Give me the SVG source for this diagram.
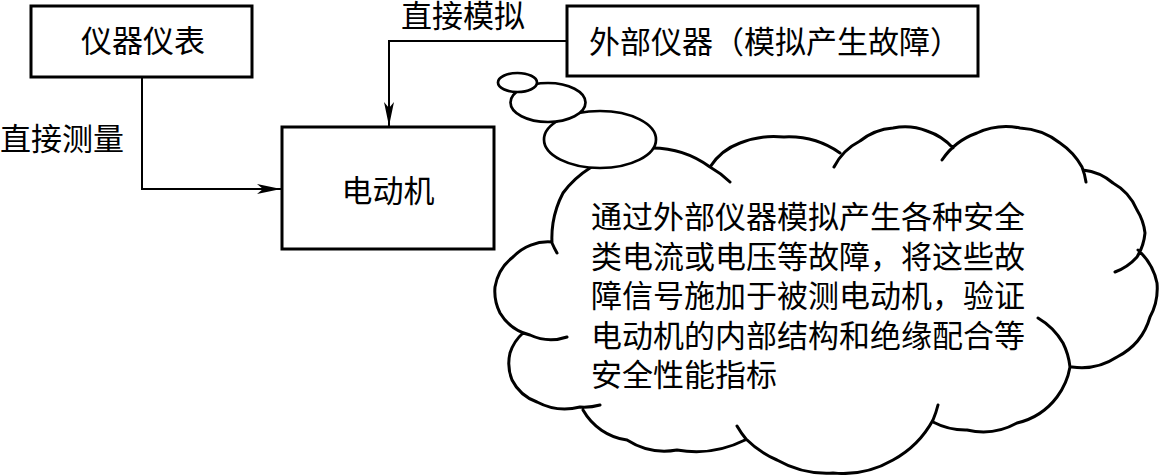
<svg xmlns="http://www.w3.org/2000/svg" width="1161" height="475" viewBox="0 0 1161 475">
<style>
.box{fill:#fff;stroke:#000;stroke-width:3}
.t{font-family:"Noto Sans CJK SC","Noto Sans CJK JP",sans-serif;font-size:31px;fill:#000}
.ln{fill:none;stroke:#000;stroke-width:2}
.cl{fill:none;stroke:#000;stroke-width:3;stroke-linecap:round}
.bub{fill:#fff;stroke:#000;stroke-width:2.7}
</style>
<defs>
<marker id="arrow" markerUnits="userSpaceOnUse" markerWidth="26" markerHeight="12" refX="24" refY="6" orient="auto">
<path d="M0,1 L24,6 L0,11 L6,6 Z" fill="#000"/>
</marker>
</defs>
<g id="connectors">
<path class="ln" d="M142,77 V189 H281" marker-end="url(#arrow)"/>
<path class="ln" d="M567,41 H389 V126" marker-end="url(#arrow)"/>
<text class="t" x="0" y="150">直接测量</text>
<text class="t" x="401" y="27">直接模拟</text>
</g>
<g id="node-instruments">
<rect class="box" x="31" y="6" width="221" height="71"/>
<text class="t" x="143" y="52" text-anchor="middle">仪器仪表</text>
</g>
<g id="node-motor">
<rect class="box" x="282" y="127" width="212" height="122"/>
<text class="t" x="388" y="202" text-anchor="middle">电动机</text>
</g>
<g id="node-external">
<rect class="box" x="567" y="6" width="411" height="70"/>
<text class="t" x="589" y="53">外部仪器（模拟产生故障）</text>
</g>
<g id="node-cloud">
<path class="cl" d="M745,440 A110,110 0 0 1 677,450 A70,70 0 0 1 627,440 A60,60 0 0 1 583,410
M600,405 A60,60 0 0 1 580,407 A60,60 0 0 1 537,402 A45,45 0 0 1 512,380 A45,45 0 0 1 510,353 A45,45 0 0 1 523,333
M567,337 A50,50 0 0 1 530,335 A48,48 0 0 1 500,313 A48,48 0 0 1 495,287 A48,48 0 0 1 513,257 A48,48 0 0 1 552,242
M557,253 A98,98 0 0 1 552,243 A98,98 0 0 1 553,223 A98,98 0 0 1 563,193 A98,98 0 0 1 590,168 A98,98 0 0 1 650,148 A98,98 0 0 1 710,167 A98,98 0 0 1 730,182
M710,167 A60,60 0 0 1 740,143 A90,90 0 0 1 784,137 A90,90 0 0 1 840,153
M834,167 A60,60 0 0 1 860,141 A60,60 0 0 1 893,128 A60,60 0 0 1 927,131 A60,60 0 0 1 953,148
M942,160 A70,70 0 0 1 977,133 A70,70 0 0 1 1020,128 A70,70 0 0 1 1060,143 A70,70 0 0 1 1082,167 A70,70 0 0 1 1086,182
M1083,170 A55,55 0 0 1 1113,183 A55,55 0 0 1 1137,210 A55,55 0 0 1 1145,233 A55,55 0 0 1 1137,257 A55,55 0 0 1 1115,272
M1138,250 A60,60 0 0 1 1157,283 A60,60 0 0 1 1150,317 A65,65 0 0 1 1117,357 A65,65 0 0 1 1072,367
M1038,318 A70,70 0 0 1 1063,343 A70,70 0 0 1 1070,367 A70,70 0 0 1 1057,397 A70,70 0 0 1 1017,423 A70,70 0 0 1 967,430 A70,70 0 0 1 933,422
M938,405 A100,100 0 0 1 933,420 A100,100 0 0 1 893,460 A100,100 0 0 1 833,473 A100,100 0 0 1 777,460 A100,100 0 0 1 746,439 A100,100 0 0 1 737,426"/>
<ellipse class="bub" cx="600" cy="139.5" rx="56" ry="28.5"/>
<ellipse class="bub" cx="548" cy="102.5" rx="37.5" ry="19.5"/>
<ellipse class="bub" cx="517.5" cy="82.5" rx="19.5" ry="9.5"/>
<text class="t" x="591" y="228">通过外部仪器模拟产生各种安全</text>
<text class="t" x="591" y="267.6">类电流或电压等故障，将这些故</text>
<text class="t" x="591" y="307.2">障信号施加于被测电动机，验证</text>
<text class="t" x="591" y="346.8">电动机的内部结构和绝缘配合等</text>
<text class="t" x="591" y="386.4">安全性能指标</text>
</g>
</svg>
